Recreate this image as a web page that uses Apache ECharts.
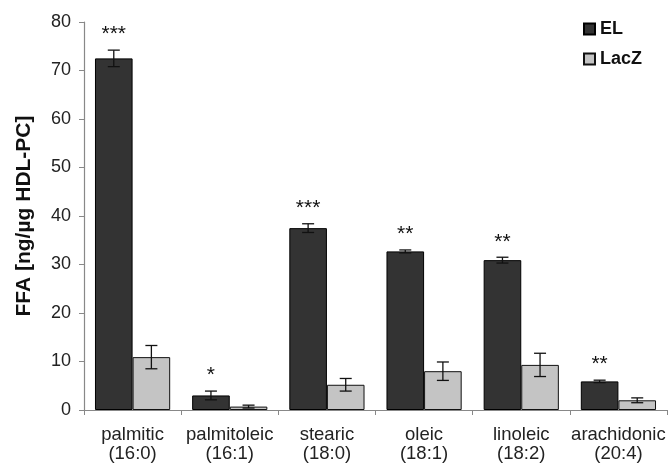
<!DOCTYPE html>
<html>
<head>
<meta charset="utf-8">
<script src="https://cdn.jsdelivr.net/npm/echarts@6/dist/echarts.min.js"></script>
<style>
  html, body { margin: 0; padding: 0; background: #fff; }
  #chart { width: 669px; height: 464px; }
</style>
</head>
<body>
<div id="chart"></div>
<script>
// Free fatty acid release per fatty acid species
const categories = ['palmitic\n(16:0)', 'palmitoleic\n(16:1)', 'stearic\n(18:0)', 'oleic\n(18:1)', 'linoleic\n(18:2)', 'arachidonic\n(20:4)'];
const elValues   = [72.5, 3.0, 37.5, 32.7, 30.9, 5.9];
const elErrors   = [1.7, 0.9, 0.9, 0.3, 0.6, 0.25];
const laczValues = [10.9, 0.7, 5.2, 8.0, 9.3, 2.0];
const laczErrors = [2.4, 0.3, 1.3, 1.9, 2.4, 0.5];
const significance = ['***', '*', '***', '**', '**', '**'];
const yTicks = { min: 0, max: 80, interval: 10 };

const CATEGORY_GAP = 0.226;
const FONT = '"Liberation Sans", Arial, Helvetica, sans-serif';

// Error bars (and optional significance marks) drawn on top of one bar of each pair
function errorBarSeries(values, errors, side, marks) {
  return {
    type: 'custom',
    z: 10,
    silent: true,
    data: values.map((v, i) => [i, v, errors[i]]),
    renderItem: function (params, api) {
      const idx = api.value(0);
      const val = api.value(1);
      const err = api.value(2);
      const band = api.size([1, 0])[0];
      const barW = band * (1 - CATEGORY_GAP) / 2;
      const center = api.coord([idx, val]);
      const x = center[0] + side * barW / 2;
      const top = api.coord([idx, val + err])[1];
      const bot = api.coord([idx, val - err])[1];
      const cap = 6;
      const style = { stroke: '#111', lineWidth: 1.3 };
      const children = [
        { type: 'line', shape: { x1: x, y1: top, x2: x, y2: bot }, style: style },
        { type: 'line', shape: { x1: x - cap, y1: top, x2: x + cap, y2: top }, style: style },
        { type: 'line', shape: { x1: x - cap, y1: bot, x2: x + cap, y2: bot }, style: style }
      ];
      if (marks) {
        children.push({
          type: 'text',
          style: {
            x: x, y: top - 26, text: marks[params.dataIndex],
            textAlign: 'center', textVerticalAlign: 'top',
            fontSize: 21, fontFamily: FONT, fill: '#111'
          }
        });
      }
      return { type: 'group', children: children };
    }
  };
}

const chart = echarts.init(document.getElementById('chart'), null, { renderer: 'canvas' });
chart.setOption({
  animation: false,
  backgroundColor: '#ffffff',
  grid: { left: 84, right: 2, top: 22, bottom: 54, containLabel: false, outerBoundsMode: 'none' },
  legend: {
    orient: 'vertical',
    left: 578,
    top: 15,
    itemWidth: 11,
    itemHeight: 11,
    itemGap: 12,
    icon: 'rect',
    textStyle: { fontFamily: FONT, fontWeight: 'bold', fontSize: 18, color: '#111' },
    data: ['EL', 'LacZ']
  },
  xAxis: {
    type: 'category',
    data: categories,
    boundaryGap: true,
    axisLine: { lineStyle: { color: '#888', width: 1.2 } },
    axisTick: { show: true, length: 5, alignWithLabel: false, lineStyle: { color: '#888' } },
    axisLabel: { fontFamily: FONT, fontSize: 18.5, color: '#222', lineHeight: 19, margin: 15, interval: 0 }
  },
  yAxis: {
    type: 'value',
    min: yTicks.min,
    max: yTicks.max,
    interval: yTicks.interval,
    name: 'FFA [ng/µg HDL-PC]',
    nameLocation: 'middle',
    nameGap: 49,
    nameTextStyle: { fontFamily: FONT, fontWeight: 'bold', fontSize: 21, color: '#111' },
    axisLine: { show: true, lineStyle: { color: '#888', width: 1.2 } },
    axisTick: { show: true, length: 5, lineStyle: { color: '#888' } },
    axisLabel: { fontFamily: FONT, fontSize: 18, color: '#222', margin: 13 },
    splitLine: { show: false }
  },
  series: [
    {
      name: 'EL',
      type: 'bar',
      data: elValues,
      barGap: '0%',
      barCategoryGap: (CATEGORY_GAP * 100) + '%',
      itemStyle: { color: '#333333', borderColor: '#000', borderWidth: 1 }
    },
    {
      name: 'LacZ',
      type: 'bar',
      data: laczValues,
      barGap: '0%',
      barCategoryGap: (CATEGORY_GAP * 100) + '%',
      itemStyle: { color: '#c4c4c4', borderColor: '#111', borderWidth: 1 }
    },
    errorBarSeries(elValues, elErrors, -1, significance),
    errorBarSeries(laczValues, laczErrors, 1, null)
  ]
});
</script>
</body>
</html>
